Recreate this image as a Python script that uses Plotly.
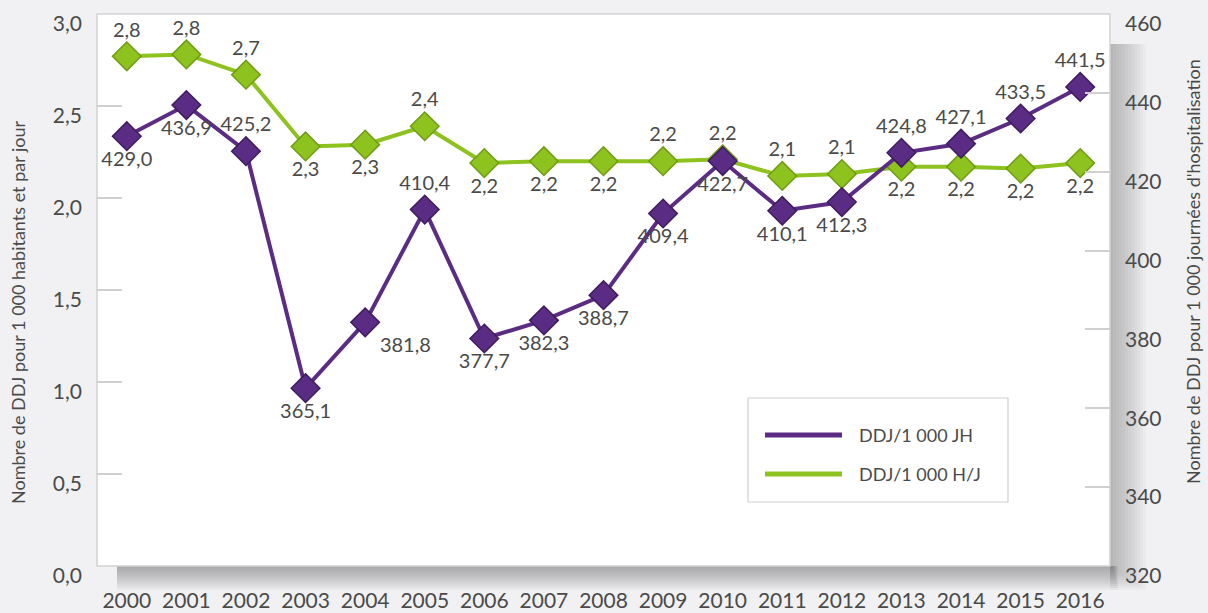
import plotly.graph_objects as go

years = [str(y) for y in range(2000, 2017)]
ddj_jh = [429.0, 436.9, 425.2, 365.1, 381.8, 410.4, 377.7, 382.3, 388.7,
          409.4, 422.7, 410.1, 412.3, 424.8, 427.1, 433.5, 441.5]
ddj_hj = [2.77, 2.78, 2.67, 2.28, 2.29, 2.39, 2.19, 2.20, 2.20,
          2.20, 2.21, 2.12, 2.13, 2.17, 2.17, 2.16, 2.19]
left_ticks = [0, 0.5, 1.0, 1.5, 2.0, 2.5, 3.0]
right_ticks = [320, 340, 360, 380, 400, 420, 440, 460]
name_jh = "DDJ/1 000 JH"
name_hj = "DDJ/1 000 H/J"
title_left = "Nombre de DDJ pour 1 000 habitants et par jour"
title_right = "Nombre de DDJ pour 1 000 journées d'hospitalisation"

pos_jh = ["bottom center", "bottom center", "top center", "bottom center", "bottom right",
          "top center", "bottom center", "bottom center", "bottom center", "bottom center",
          "bottom center", "bottom center", "bottom center", "top center", "top center",
          "top center", "top center"]
pos_hj = ["top center", "top center", "top center", "bottom center", "bottom center",
          "top center", "bottom center", "bottom center", "bottom center", "top center",
          "top center", "top center", "top center", "bottom center", "bottom center",
          "bottom center", "bottom center"]

PURPLE = "#5b2c83"
GREEN = "#8dc21f"
TXT = "#4a4a4a"
FONT = "Lato"

W, H = 1208, 613
L, R, T, B = 97, 1110, 14, 566


def px(x):
    return (x - L) / (R - L)


def py(y):
    return (B - y) / (B - T)


fig = go.Figure()

fig.add_trace(go.Scatter(
    x=years, y=ddj_hj, mode="lines+markers+text", yaxis="y", name=name_hj,
    line=dict(color=GREEN, width=4),
    marker=dict(symbol="diamond", size=22, color=GREEN, line=dict(color="#6f9c12", width=1.5)),
    texttemplate="%{y:.1f}", textposition=pos_hj,
    textfont=dict(size=20, color=TXT, family=FONT), showlegend=False, cliponaxis=False))

fig.add_trace(go.Scatter(
    x=years, y=ddj_jh, mode="lines+markers+text", yaxis="y2", name=name_jh,
    line=dict(color=PURPLE, width=4),
    marker=dict(symbol="diamond", size=22, color=PURPLE, line=dict(color="#3f1c5e", width=1.5)),
    texttemplate="%{y:.1f}", textposition=pos_jh,
    textfont=dict(size=20, color=TXT, family=FONT), showlegend=False, cliponaxis=False))

shapes = []
# shadow under and right of plot area
for i in range(1, 13):
    shapes.append(dict(type="rect", xref="paper", yref="paper", layer="below",
                       x0=px(L + 20), x1=px(R + 2 + i * 0.5), y0=py(B + i * 2), y1=py(B),
                       fillcolor="rgba(90,90,90,0.05)", line=dict(width=0)))
    shapes.append(dict(type="rect", xref="paper", yref="paper", layer="below",
                       x0=px(R), x1=px(R + i * 3), y0=py(B + i * 2), y1=py(T + 30),
                       fillcolor="rgba(90,90,90,0.035)", line=dict(width=0)))
# plot area background
shapes.append(dict(type="rect", xref="paper", yref="paper", layer="below",
                   x0=0, x1=1, y0=0, y1=1, fillcolor="white", line=dict(color="#d2d2d2", width=1.5)))
# legend box
shapes.append(dict(type="rect", xref="paper", yref="paper",
                   x0=px(748), x1=px(1008), y0=py(502), y1=py(398),
                   fillcolor="white", line=dict(color="#d0d0d0", width=1.2)))
shapes.append(dict(type="line", xref="paper", yref="paper",
                   x0=px(765), x1=px(842), y0=py(435), y1=py(435),
                   line=dict(color=PURPLE, width=5)))
shapes.append(dict(type="line", xref="paper", yref="paper",
                   x0=px(765), x1=px(842), y0=py(474), y1=py(474),
                   line=dict(color=GREEN, width=5)))

annotations = [
    dict(text=name_jh, xref="paper", yref="paper", x=px(857), y=py(435), xanchor="left",
         yanchor="middle", showarrow=False, font=dict(size=18, color=TXT, family=FONT)),
    dict(text=name_hj, xref="paper", yref="paper", x=px(857), y=py(474), xanchor="left",
         yanchor="middle", showarrow=False, font=dict(size=18, color=TXT, family=FONT)),
    dict(text=title_left, xref="paper", yref="paper", x=px(18), y=py(312), textangle=-90,
         xanchor="center", yanchor="middle", showarrow=False,
         font=dict(size=18, color=TXT, family=FONT)),
    dict(text=title_right, xref="paper", yref="paper", x=px(1193), y=py(272), textangle=-90,
         xanchor="center", yanchor="middle", showarrow=False,
         font=dict(size=18, color=TXT, family=FONT)),
]

fig.update_layout(
    width=W, height=H,
    margin=dict(l=L, r=W - R, t=T, b=H - B, autoexpand=False),
    paper_bgcolor="#f1f1f3", plot_bgcolor="rgba(0,0,0,0)",
    separators=", ",
    font=dict(family=FONT, color=TXT),
    showlegend=False,
    shapes=shapes, annotations=annotations,
    xaxis=dict(type="category", range=[-0.5, 16.5], showgrid=False, zeroline=False,
               showline=False, ticks="", tickfont=dict(size=21, color=TXT, family=FONT),
               ticklabelstandoff=20, automargin=False),
    yaxis=dict(range=[0, 3], tickvals=left_ticks, tickformat=".1f", showgrid=False,
               zeroline=False, showline=False, ticks="inside", ticklen=25,
               tickcolor="#d0d0d0", tickwidth=1.5,
               tickfont=dict(size=21, color=TXT, family=FONT),
               ticklabelstandoff=14, ticklabelshift=10, automargin=False),
    yaxis2=dict(range=[320, 460], tickvals=right_ticks, overlaying="y", side="right",
                showgrid=False, zeroline=False, showline=False, ticks="inside", ticklen=25,
                tickcolor="#d0d0d0", tickwidth=1.5,
                tickfont=dict(size=21, color=TXT, family=FONT),
                ticklabelstandoff=14, ticklabelshift=10, automargin=False),
)

fig.write_html("out.html", config={"displayModeBar": False},
               post_script="document.body.style.margin='0';document.body.style.background='#f1f1f3';")
